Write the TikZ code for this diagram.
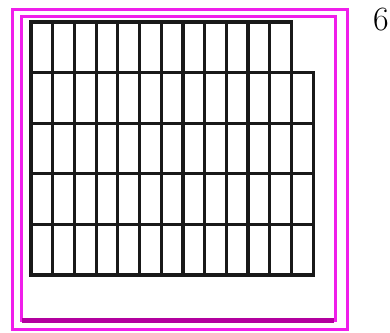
\documentclass[tikz,border=0pt]{standalone}
\usepackage{fontspec}
\usepackage{tikz}
\definecolor{framecolor}{HTML}{F01EEB}
\definecolor{framedark}{HTML}{B3009F}

\begin{document}
\begin{tikzpicture}[x=1pt,y=-1pt,
  frameline/.style={draw=framecolor,line width=3pt},
  gridline/.style={draw=black!90,line width=3.2pt,line cap=rect}]
  \useasboundingbox (0,0) rectangle (390,332);
  \clip (0,0) rectangle (390,332);
  % Outer and inner frame
  \draw[frameline] (12.5,9) rectangle (347,329.5);
  \draw[frameline] (21.5,16) rectangle (335.5,320);
  \draw[draw=framedark,line width=5pt] (22,320) -- (334,320);
  % Top row: 12 cells
  \draw[gridline] (31,22) -- (291.4,22);
  \foreach \k in {0,...,12}
    \draw[gridline] ({31+21.7*\k},22) -- ({31+21.7*\k},72.6);
  % Lower rows: 13 cells
  \foreach \j in {1,...,5}
    \draw[gridline] (31,{22+50.6*\j}) -- (313.1,{22+50.6*\j});
  \foreach \k in {0,...,13}
    \draw[gridline] ({31+21.7*\k},72.6) -- ({31+21.7*\k},275);
  % Label
  \node[font=\fontsize{34}{38}\selectfont,anchor=north east,inner sep=0pt] (lbl) at (389,8) {6};
\end{tikzpicture}
\end{document}
